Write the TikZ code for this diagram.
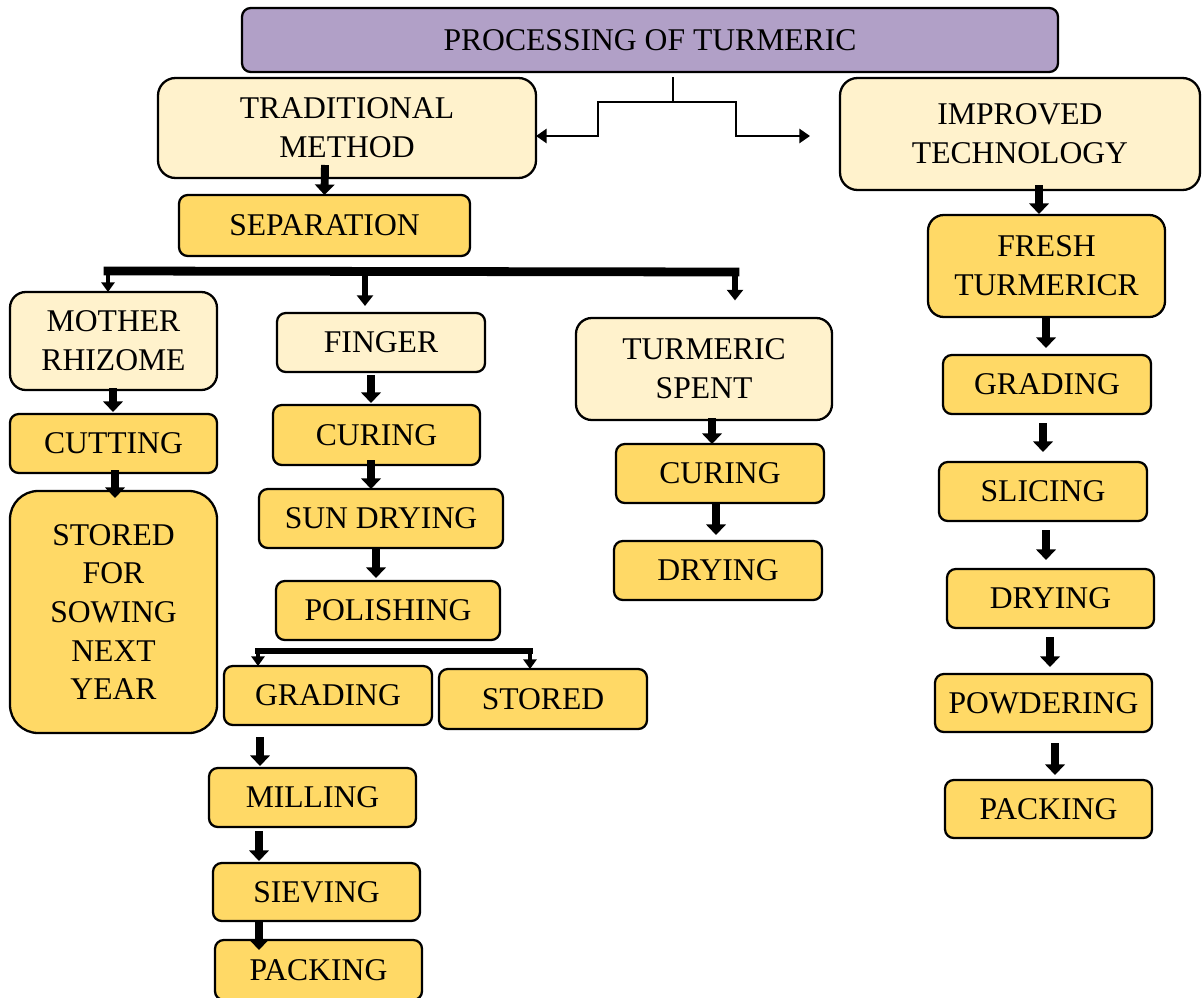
\documentclass[tikz,border=0pt]{standalone}
\usepackage{fontspec}
\setmainfont{Liberation Serif}
\usetikzlibrary{arrows.meta,calc}
\definecolor{headlilac}{HTML}{B1A0C7}
\definecolor{paleyellow}{HTML}{FFF2CC}
\definecolor{goldyellow}{HTML}{FFD966}

\begin{document}
\begin{tikzpicture}[x=0.02cm,y=-0.02cm,inner sep=0pt,outer sep=0pt,
sz/.style 2 args={minimum width=#1*0.02cm,minimum height=#2*0.02cm},
stepbox/.style={draw,rectangle,rounded corners=5pt,line width=1.3pt,fill=goldyellow,
  align=center,font=\fontsize{18}{22}\selectfont},
methodbox/.style={stepbox,fill=paleyellow},
titlebox/.style={stepbox,fill=headlilac},
wire/.style={line width=1.2pt},
wirearrow/.style={wire,-{Triangle[width=8pt,length=6pt]}},
blk/.style={line width=4.5pt,-{Triangle[width=11pt,length=6pt]}},
midblk/.style={line width=3.2pt,-{Triangle[width=9pt,length=6pt]}},
thinblk/.style={line width=2pt,-{Triangle[width=7.5pt,length=5.5pt]}},
bus/.style={line width=5pt,line cap=rect}]
\useasboundingbox (0,0) rectangle (1202,997);

% heading and the two methods
\draw (650,40) node[titlebox,sz={816}{64}] (title) {PROCESSING OF TURMERIC};
\draw (347,128) node[methodbox,sz={378}{100},rounded corners=10pt] (trad) {TRADITIONAL\\METHOD};
\draw (1020,134) node[methodbox,sz={360}{112},rounded corners=10pt] (impr) {IMPROVED\\TECHNOLOGY};

% traditional method
\draw (324.5,225.5) node[stepbox,sz={291}{61}] (sep) {SEPARATION};
\draw (113.5,341) node[methodbox,sz={207}{98},rounded corners=9pt] (mother) {MOTHER\\RHIZOME};
\draw (381,342.5) node[methodbox,sz={208}{59}] (finger) {FINGER};
\draw (704,369) node[methodbox,sz={256}{102},rounded corners=9pt] (spent) {TURMERIC\\SPENT};
\draw (113.5,443.5) node[stepbox,sz={207}{59}] (cut) {CUTTING};
\draw (113.5,612) node[stepbox,sz={207}{242},rounded corners=16pt] (sow) {STORED\\FOR\\SOWING\\NEXT\\YEAR};
\draw (376.5,435) node[stepbox,sz={207}{60}] (curfin) {CURING};
\draw (381,518.5) node[stepbox,sz={244}{59}] (sun) {SUN DRYING};
\draw (388,610.5) node[stepbox,sz={224}{59}] (pol) {POLISHING};
\draw (328,695.5) node[stepbox,sz={208}{59}] (gradfin) {GRADING};
\draw (543,699) node[stepbox,sz={208}{60}] (stored) {STORED};
\draw (312.5,797.5) node[stepbox,sz={207}{59}] (mill) {MILLING};
\draw (316.5,892) node[stepbox,sz={207}{58}] (siev) {SIEVING};
\draw (318.5,970) node[stepbox,sz={207}{60}] (packfin) {PACKING};
\draw (720,473.5) node[stepbox,sz={208}{59}] (curspent) {CURING};
\draw (718,570.5) node[stepbox,sz={208}{59}] (dryspent) {DRYING};

% improved technology
\draw (1046.5,266) node[stepbox,sz={237}{102},rounded corners=9pt] (fresh) {FRESH\\TURMERICR};
\draw (1047,384.5) node[stepbox,sz={208}{59}] (gradimp) {GRADING};
\draw (1043,491.5) node[stepbox,sz={208}{59}] (slic) {SLICING};
\draw (1050.5,598.5) node[stepbox,sz={207}{59}] (dryimp) {DRYING};
\draw (1043.5,703) node[stepbox,sz={217}{58}] (powd) {POWDERING};
\draw (1048.5,809) node[stepbox,sz={207}{58}] (packimp) {PACKING};

% split below the heading
\coordinate (split) at (673,102);
\coordinate (tl) at (598,136);
\coordinate (tr) at (736,136);
\coordinate (trend) at (810,136);
\draw[wire,shorten <=3pt] (title.south -| split) -- (split);
\draw[wirearrow] (split) -| (tl) -- (tl -| trad.east);
\draw[wirearrow] (split) -| (tr) -- (trend);

% separation bus
\coordinate (bl) at (108,271);
\coordinate (bm) at (365,272);
\coordinate (br) at (735,272);
\draw[bus] (bl) -- (br);
\draw[thinblk] (bl) -- (bl |- mother.north);
\draw[midblk,shorten >=4pt] (bm) -- (bm |- finger.north);
\draw[midblk,shorten >=10pt] (br) -- (br |- spent.north);

% polishing bus
\coordinate (pl) at (258,651);
\coordinate (pr) at (530,651);
\draw[bus,line width=3.5pt] (pl) -- (pr);
\draw[thinblk] (pl) -- (pl |- gradfin.north);
\draw[thinblk] (pr) -- (pr |- stored.north);

% block arrows
\draw[blk] ($(trad.south)+(-22,-13)$) -- (sep.north);
\draw[blk] ($(impr.south)+(19,-5)$) -- ($(fresh.north)+(-7.5,-1)$);
\draw[blk] ($(mother.south)+(-0.5,-2)$) -- ($(cut.north)+(-0.5,-2)$);
\draw[blk] ($(cut.south)+(1.5,-3)$) -- ($(sow.north)+(1.5,7)$);
\draw[blk] ($(finger.south)+(-10,3)$) -- ($(curfin.north)+(-5.5,-2)$);
\draw[blk] ($(curfin.south)+(-5.5,-5)$) -- ($(sun.north)+(-10,0)$);
\draw[blk] ($(sun.south)+(-5,0)$) -- ($(pol.north)+(-12,-3)$);
\draw[blk] ($(gradfin.south)+(-68,12)$) -- ($(mill.north)+(-52.5,-2)$);
\draw[blk] ($(mill.south)+(-53.5,4)$) -- ($(siev.north)+(-57.5,-2)$);
\draw[blk] ($(siev.south)+(-57.5,-1)$) -- ($(packfin.north)+(-59.5,10)$);
\draw[blk] ($(spent.south)+(8,-2)$) -- ($(curspent.north)+(-8,0)$);
\draw[blk] ($(curspent.south)+(-4,0)$) -- ($(dryspent.north)+(-2,-6)$);
\draw[blk] ($(fresh.south)+(-0.5,1)$) -- ($(gradimp.north)+(-1,-7)$);
\draw[blk] ($(gradimp.south)+(-4,9)$) -- ($(slic.north)+(0,-10)$);
\draw[blk] ($(slic.south)+(3,9)$) -- ($(dryimp.north)+(-4.5,-9)$);
\draw[blk] ($(dryimp.south)+(-0.5,9)$) -- ($(powd.north)+(6.5,-7)$);
\draw[blk] ($(powd.south)+(11.5,11)$) -- ($(packimp.north)+(6.5,-5)$);
\end{tikzpicture}
\end{document}
